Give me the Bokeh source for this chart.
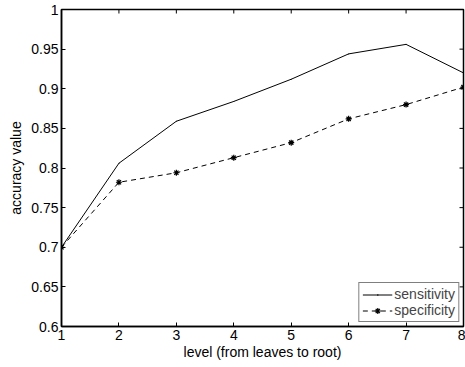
import math
from bokeh.plotting import figure
from bokeh.models import Range1d, FixedTicker, Legend, LegendItem
from bokeh.embed import file_html
from bokeh.resources import INLINE

levels = [1, 2, 3, 4, 5, 6, 7, 8]
sensitivity = [0.700, 0.806, 0.859, 0.884, 0.912, 0.944, 0.956, 0.920]
specificity = [0.700, 0.782, 0.794, 0.813, 0.832, 0.862, 0.880, 0.902]
x_ticks = [1, 2, 3, 4, 5, 6, 7, 8]
y_ticks = [0.6, 0.65, 0.7, 0.75, 0.8, 0.85, 0.9, 0.95, 1.0]
y_tick_labels = ["0.6", "0.65", "0.7", "0.75", "0.8", "0.85", "0.9", "0.95", "1"]

FONT = "Liberation Sans"

p = figure(width=465, height=367, output_backend="svg", toolbar_location=None,
           x_range=Range1d(1, 8), y_range=Range1d(0.6, 1.0),
           x_axis_label="level (from leaves to root)", y_axis_label="accuracy value",
           min_border_left=61, min_border_right=2, min_border_top=9, min_border_bottom=41)
p.xgrid.visible = False
p.ygrid.visible = False
p.outline_line_color = "black"
p.outline_line_width = 1.5
p.background_fill_color = "white"
p.border_fill_color = "white"

for ax, ticks in ((p.xaxis[0], x_ticks), (p.yaxis[0], y_ticks)):
    ax.ticker = FixedTicker(ticks=ticks)
    ax.major_tick_in = 4
    ax.major_tick_out = 0
    ax.minor_tick_in = 0
    ax.minor_tick_out = 0
    ax.axis_line_color = "black"
    ax.axis_line_width = 1.5
    ax.major_tick_line_color = "black"
    ax.major_label_text_font = FONT
    ax.major_label_text_font_size = "14px"
    ax.major_label_text_color = "black"
    ax.axis_label_text_font = FONT
    ax.axis_label_text_font_size = "14px"
    ax.axis_label_text_font_style = "normal"
    ax.axis_label_text_color = "black"
p.xaxis[0].major_label_standoff = 3
p.xaxis[0].axis_label_standoff = 1
p.yaxis[0].major_label_standoff = 3
p.yaxis[0].axis_label_standoff = 4
p.yaxis[0].major_label_overrides = dict(zip(y_ticks, y_tick_labels))

# inward ticks on the top and right edges of the box
p.ray(x=x_ticks, y=[1.0] * len(x_ticks), length=4, length_units="screen",
      angle=-math.pi / 2, line_color="black", line_width=1)
p.ray(x=[8] * len(y_ticks), y=y_ticks, length=4, length_units="screen",
      angle=math.pi, line_color="black", line_width=1)

l1 = p.line(levels, sensitivity, line_color="black", line_width=1)
d1 = p.scatter(levels, sensitivity, marker="dot", size=4, color="black")
l2 = p.line(levels, specificity, line_color="black", line_width=1, line_dash="5 4")
d2 = p.scatter(levels, specificity, marker="asterisk", size=6, line_color="black", line_width=1.2)

legend = Legend(items=[LegendItem(label="sensitivity", renderers=[l1, d1]),
                       LegendItem(label="specificity", renderers=[l2, d2])],
                location="bottom_right", margin=4, padding=3, spacing=0,
                glyph_width=30, glyph_height=15, label_height=15, label_standoff=2,
                label_text_font=FONT, label_text_font_size="14px",
                border_line_color="black", border_line_width=1,
                background_fill_alpha=1.0)
p.add_layout(legend, "center")

open("out.html", "w").write(file_html(p, INLINE))
